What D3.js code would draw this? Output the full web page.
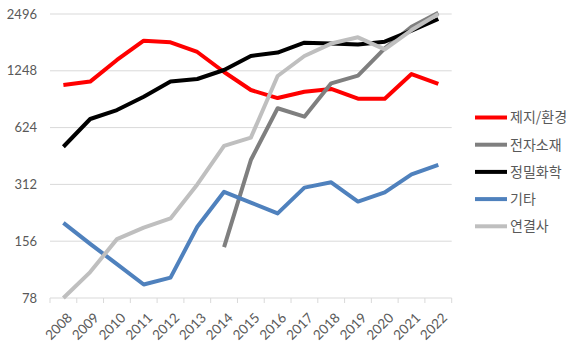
<!DOCTYPE html>
<html>
<head>
<meta charset="utf-8">
<script src="https://cdn.jsdelivr.net/npm/d3@7"></script>
<style>
  html, body { margin: 0; padding: 0; background: #fff; }
  svg { display: block; }
  text { font-family: "Lato", "Noto Sans CJK KR", sans-serif; fill: #595959; }
  .legend text { font-family: "Noto Sans CJK KR", sans-serif; }
</style>
</head>
<body>
<svg id="chart" width="588" height="342"></svg>
<script>
const years = ["2008","2009","2010","2011","2012","2013","2014","2015","2016","2017","2018","2019","2020","2021","2022"];
const yTicks = [78, 156, 312, 624, 1248, 2496];

const seriesNames = ["제지/환경", "전자소재", "정밀화학", "기타", "연결사"];
const paperEnv   = [1049, 1094, 1424, 1802, 1768, 1570, 1230, 987, 895, 967, 1000, 888, 888, 1200, 1063];
const electronic = [null, null, null, null, null, null, 145, 420, 790, 713, 1071, 1176, 1640, 2137, 2530];
const fineChem   = [494, 693, 773, 910, 1094, 1129, 1260, 1495, 1560, 1759, 1740, 1720, 1780, 2036, 2348];
const others     = [195, 151, 118, 92, 100, 186, 285, 250, 219, 300, 320, 253, 283, 353, 396];
const affiliates = [78, 107, 160, 184, 206, 312, 499, 552, 1171, 1495, 1740, 1878, 1620, 2053, 2496];
const seriesColors = ["#ff0000", "#7f7f7f", "#000000", "#4f81bd", "#bfbfbf"];

const seriesValues = [paperEnv, electronic, fineChem, others, affiliates];

const svg = d3.select("#chart");
const plot = { left: 50, right: 451.7, top: 14, bottom: 298 };

const x = d3.scaleBand().domain(years).range([plot.left, plot.right]);
const y = d3.scaleLog().base(2).domain([78, 2496]).range([plot.bottom, plot.top]);

// horizontal gridlines
svg.append("g")
  .selectAll("line")
  .data(yTicks.slice(1))
  .join("line")
  .attr("x1", plot.left).attr("x2", plot.right)
  .attr("y1", d => y(d)).attr("y2", d => y(d))
  .attr("stroke", "#d9d9d9").attr("stroke-width", 1);

// y axis labels
const yAxis = svg.append("g")
  .attr("transform", `translate(${plot.left},0)`)
  .call(d3.axisLeft(y).tickValues(yTicks).tickFormat(d3.format("d")).tickSize(0).tickPadding(13));
yAxis.select(".domain").remove();
yAxis.selectAll("text").attr("font-size", 13).attr("fill", "#595959")
  .style("font-family", "Lato, sans-serif");

// x axis with boundary ticks
const xAxis = svg.append("g").attr("transform", `translate(0,${plot.bottom})`);
xAxis.append("line")
  .attr("x1", plot.left).attr("x2", plot.right)
  .attr("stroke", "#d9d9d9");
const bounds = d3.range(years.length + 1).map(i => plot.left + i * x.step());
xAxis.selectAll("line.tick")
  .data(bounds)
  .join("line")
  .attr("class", "tick")
  .attr("x1", d => d).attr("x2", d => d)
  .attr("y1", 0).attr("y2", 5)
  .attr("stroke", "#d9d9d9");
xAxis.selectAll("text")
  .data(years)
  .join("text")
  .attr("transform", d => `translate(${x(d) + x.bandwidth() / 2 + 3},${14}) rotate(-45)`)
  .attr("text-anchor", "end")
  .attr("dy", "0.7em")
  .attr("font-size", 13.5)
  .text(d => d);

// series lines
const line = d3.line()
  .defined(d => d.v != null)
  .x(d => x(d.year) + x.bandwidth() / 2)
  .y(d => y(d.v));

seriesValues.forEach((vals, i) => {
  svg.append("path")
    .datum(years.map((yr, j) => ({ year: yr, v: vals[j] })))
    .attr("fill", "none")
    .attr("stroke", seriesColors[i])
    .attr("stroke-width", 4)
    .attr("stroke-linejoin", "round")
    .attr("d", line);
});

// legend
const legend = svg.append("g").attr("class", "legend");
seriesNames.forEach((name, i) => {
  const ly = 117.5 + i * 27.2;
  legend.append("line")
    .attr("x1", 475).attr("x2", 507)
    .attr("y1", ly).attr("y2", ly)
    .attr("stroke", seriesColors[i]).attr("stroke-width", 4);
  legend.append("text")
    .attr("x", 510).attr("y", ly)
    .attr("dy", "0.35em")
    .attr("font-size", 14)
    .text(name);
});
</script>
</body>
</html>
